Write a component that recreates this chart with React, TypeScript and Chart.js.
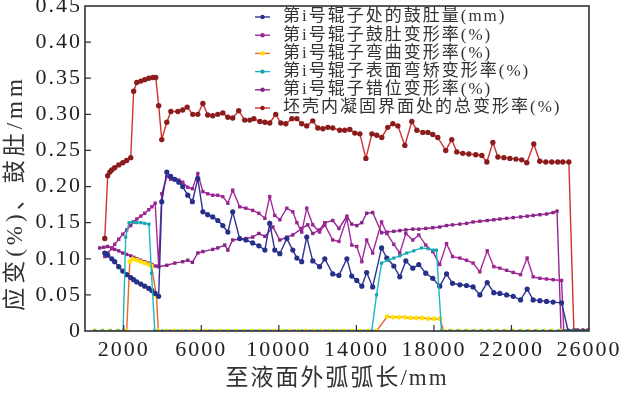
import { useEffect, useRef } from 'react';
import { Chart, registerables } from 'chart.js';

Chart.register(...registerables);

// ---------- data ----------
const xTicks = [2000, 6000, 10000, 14000, 18000, 22000, 26000];

const seriesLabels = [
  '第i号辊子处的鼓肚量(mm)',
  '第i号辊子鼓肚变形率(%)',
  '第i号辊子弯曲变形率(%)',
  '第i号辊子表面弯矫变形率(%)',
  '第i号辊子错位变形率(%)',
  '坯壳内凝固界面处的总变形率(%)',
];

// bulge amount (mm)
const bulgeX = [1020, 1170, 1380, 1530, 1740, 1950, 2150, 2360, 2510, 2670, 2880, 3080, 3290, 3450, 3620, 3800,
  3960, 4220, 4420, 4630, 4840, 5040, 5300, 5540, 5820, 6080,
  6330, 6590, 6850, 7110, 7370, 7620, 7980, 8300, 8650, 8970,
  9280, 9530, 9790, 10050, 10410, 10720, 10930, 11180, 11440, 11750,
  12100, 12370, 12780, 13100, 13510, 13760, 14020, 14280, 14530, 14840,
  15300, 15570, 15930, 16240, 16550, 16910, 17220, 17580, 17940, 18300,
  18650, 18960, 19340, 19680, 20020, 20370, 20750, 21090, 21400, 21750,
  22090, 22470, 22810, 23120, 23465, 23810, 24150, 24585, 24925, 25300, 25700];
const bulgeY = [0.108, 0.105, 0.1, 0.096, 0.089, 0.083, 0.078, 0.074, 0.071, 0.068, 0.065, 0.062, 0.059, 0.056, 0.052, 0.048,
  0.179, 0.22, 0.214, 0.21, 0.206, 0.2, 0.188, 0.179, 0.211, 0.165,
  0.161, 0.158, 0.153, 0.146, 0.137, 0.165, 0.128, 0.126, 0.122, 0.118,
  0.112, 0.149, 0.112, 0.107, 0.128, 0.112, 0.101, 0.096, 0.13, 0.097,
  0.089, 0.1, 0.079, 0.077, 0.1, 0.076, 0.07, 0.062, 0.081, 0.061,
  0.115, 0.101, 0.09, 0.075, 0.097, 0.087, 0.092, 0.08, 0.073, 0.062,
  0.079, 0.066, 0.064, 0.063, 0.061, 0.05, 0.067, 0.053, 0.052, 0.05,
  0.048, 0.043, 0.058, 0.043, 0.042, 0.041, 0.04, 0.039, 0, 0, 0];

// bulge strain (%)
const bulgeStrainX = [1020, 1170, 1380, 1530, 1740, 1950, 2150, 2360, 2510, 2670, 2880, 3080, 3290, 3450, 3620, 3800,
  3960, 4220, 4420, 4630, 4840, 5040, 5300, 5540, 5820, 6080,
  6330, 6590, 6850, 7110, 7370, 7620, 7980, 8300, 8650, 8970,
  9280, 9530, 9790, 10050, 10410, 10720, 10930, 11180, 11440, 11750,
  12100, 12370, 12780, 13100, 13510, 13760, 14020, 14280, 14530, 14840,
  15300, 15570, 15930, 16240, 16550, 16910, 17220, 17580, 17940, 18300,
  18650, 18960, 19340, 19680, 20020, 20370, 20750, 21090, 21400, 21750,
  22090, 22470, 22810, 23120, 23465, 23810, 24150, 24585, 24700, 25100, 25500];
const bulgeStrainY = [0.103, 0.108, 0.114, 0.12, 0.127, 0.134, 0.14, 0.146, 0.151, 0.155, 0.159, 0.163, 0.168, 0.172, 0.177, 0.09,
  0.19, 0.214, 0.21, 0.21, 0.209, 0.206, 0.199, 0.197, 0.218, 0.193,
  0.19, 0.188, 0.188, 0.186, 0.177, 0.195, 0.172, 0.17, 0.167, 0.163,
  0.156, 0.186, 0.16, 0.154, 0.17, 0.165, 0.15, 0.137, 0.17, 0.147,
  0.137, 0.147, 0.126, 0.124, 0.156, 0.119, 0.117, 0.096, 0.126, 0.108,
  0.151, 0.135, 0.12, 0.108, 0.135, 0.126, 0.133, 0.119, 0.11, 0.092,
  0.121, 0.103, 0.101, 0.098, 0.094, 0.082, 0.111, 0.089, 0.087, 0.084,
  0.081, 0.078, 0.101, 0.075, 0.073, 0.072, 0.071, 0.07, 0, 0, 0];

// bending strain (%)
const bendX = [500, 900, 1300, 1700, 2150, 2310, 2460, 2670, 2880, 3080,
  3300, 3430, 3690, 3780, 4200, 4600, 5000, 5400, 5800, 6200,
  6600, 7000, 7400, 7800, 8200, 8600, 9000, 9400, 9800, 10200,
  10600, 11000, 11400, 11800, 12200, 12600, 13000, 13400, 13800, 14200,
  14600, 15040, 15590, 15900, 16200, 16500, 16800, 17100, 17400, 17700,
  18000, 18300, 18510, 18900, 19300, 19700, 20100, 20500, 20900, 21300,
  21700, 22100, 22500, 22900, 23300, 23700, 24100, 24500, 24900, 25300, 25700];
const bendY = [0, 0, 0, 0, 0, 0.096, 0.1, 0.098, 0.096, 0.094,
  0.092, 0.09, 0.048, 0, 0, 0, 0, 0, 0, 0,
  0, 0, 0, 0, 0, 0, 0, 0, 0, 0,
  0, 0, 0, 0, 0, 0, 0, 0, 0, 0,
  0, 0, 0.02, 0.019, 0.019, 0.019, 0.018, 0.018, 0.018, 0.017,
  0.017, 0.017, 0, 0, 0, 0, 0, 0, 0, 0,
  0, 0, 0, 0, 0, 0, 0, 0, 0, 0, 0];

// surface straightening strain (%)
const surfX = [500, 900, 1300, 1700, 1965, 2100, 2270, 2460, 2670, 2880,
  3080, 3300, 3430, 3600, 4000, 4400, 4800, 5200, 5600, 6000,
  6400, 6800, 7200, 7600, 8000, 8400, 8800, 9200, 9600, 10000,
  10400, 10800, 11200, 11600, 12000, 12400, 12800, 13200, 13600, 14000,
  14400, 14790, 15040, 15300, 15620, 15930, 16240, 16600, 16960, 17360,
  17690, 17960, 18130, 18390, 18800, 19200, 19600, 20000, 20400, 20800,
  21200, 21600, 22000, 22400, 22800, 23200, 23600, 24000, 24400, 24800,
  25200, 25600, 25950];
const surfY = [0, 0, 0, 0, 0, 0.13, 0.15, 0.151, 0.15, 0.15,
  0.149, 0.148, 0.08, 0, 0, 0, 0, 0, 0, 0,
  0, 0, 0, 0, 0, 0, 0, 0, 0, 0,
  0, 0, 0, 0, 0, 0, 0, 0, 0, 0,
  0, 0, 0.05, 0.094, 0.098, 0.101, 0.104, 0.108, 0.111, 0.115,
  0.114, 0.112, 0.112, 0, 0, 0, 0, 0, 0, 0,
  0, 0, 0, 0, 0, 0, 0, 0, 0, 0,
  0, 0, 0];

// misalignment strain (%)
const misX = [760, 970, 1170, 1380, 1530, 1740, 1950, 2150, 2360, 2510,
  2670, 2880, 3080, 3290, 3450, 3620, 3800, 4220, 4630, 5040,
  5300, 5540, 5820, 6080, 6590, 6850, 7210, 7370, 7620, 7980,
  8300, 8650, 8970, 9280, 9690, 10050, 10410, 10720, 11180, 11490,
  11750, 12100, 12370, 12780, 13100, 13510, 13760, 14020, 14280, 14530,
  14840, 15300, 15570, 15930, 16240, 16550, 16910, 17220, 17580, 17940,
  18300, 18650, 18960, 19340, 19680, 20020, 20370, 20750, 21090, 21400,
  21750, 22090, 22470, 22810, 23120, 23465, 23810, 24150, 24350, 24560,
  24900, 25300];
const misY = [0.115, 0.116, 0.117, 0.115, 0.113, 0.111, 0.108, 0.106, 0.104, 0.102,
  0.1, 0.098, 0.096, 0.094, 0.092, 0.09, 0.089, 0.091, 0.094, 0.096,
  0.098, 0.095, 0.108, 0.11, 0.113, 0.115, 0.119, 0.112, 0.126, 0.127,
  0.128, 0.13, 0.135, 0.131, 0.144, 0.126, 0.13, 0.133, 0.142, 0.147,
  0.135, 0.14, 0.15, 0.153, 0.142, 0.159, 0.148, 0.146, 0.15, 0.163,
  0.164, 0.136, 0.137, 0.138, 0.139, 0.14, 0.141, 0.141, 0.142, 0.143,
  0.144, 0.146, 0.147, 0.148, 0.149, 0.151, 0.152, 0.153, 0.154, 0.155,
  0.156, 0.157, 0.158, 0.159, 0.16, 0.161, 0.162, 0.164, 0.166, 0,
  0, 0];

// total strain at solidification front (%)
const totalX = [1020, 1170, 1280, 1380, 1530, 1740, 1950, 2150, 2360, 2510,
  2670, 2880, 3080, 3290, 3500, 3650, 3800, 3960, 4220, 4430,
  4790, 5040, 5270, 5560, 5820, 6080, 6330, 6590, 6850, 7110,
  7370, 7620, 7930, 8240, 8500, 8710, 9020, 9280, 9530, 9840,
  10100, 10360, 10670, 10930, 11180, 11440, 11750, 12010, 12270, 12530,
  12780, 13140, 13400, 13660, 13920, 14180, 14490, 14800, 15050, 15310,
  15620, 15880, 16140, 16500, 16860, 17120, 17430, 17690, 17940, 18200,
  18610, 18920, 19180, 19490, 19800, 20160, 20470, 20730, 21040, 21300,
  21610, 21920, 22230, 22530, 22790, 23150, 23460, 23770, 24080, 24390,
  24650, 24960, 25220, 25420, 25680, 25940];
const totalY = [0.128, 0.215, 0.22, 0.223, 0.226, 0.23, 0.233, 0.236, 0.24, 0.332,
  0.344, 0.346, 0.348, 0.35, 0.351, 0.351, 0.312, 0.265, 0.289, 0.304,
  0.304, 0.306, 0.31, 0.3, 0.3, 0.315, 0.299, 0.298, 0.3, 0.302,
  0.296, 0.295, 0.305, 0.292, 0.292, 0.294, 0.29, 0.289, 0.288, 0.3,
  0.288, 0.287, 0.294, 0.294, 0.287, 0.284, 0.291, 0.281, 0.28, 0.282,
  0.281, 0.278, 0.278, 0.279, 0.274, 0.273, 0.239, 0.273, 0.271, 0.268,
  0.282, 0.287, 0.284, 0.257, 0.29, 0.278, 0.275, 0.275, 0.272, 0.268,
  0.25, 0.265, 0.248, 0.246, 0.245, 0.244, 0.243, 0.234, 0.261, 0.241,
  0.24, 0.239, 0.238, 0.237, 0.233, 0.259, 0.235, 0.234, 0.234, 0.234,
  0.234, 0.234, 0, 0, 0, 0];

const xTitle = '至液面外弧弧长/mm';
const yTitle = '应变(%)、鼓肚/mm';

// ---------- styles ----------
const lineColors = ['#2e3192', '#a3289c', '#f26522', '#1db4c4', '#92278f', '#d0312d'];
const markerColors = ['#26308a', '#9a2595', '#ffe000', '#12a3ad', '#8a2388', '#8b1c1c'];
const markerStyles = ['circle', 'rect', 'circle', 'rect', 'rect', 'circle'];
const markerRadius = [2.6, 2.4, 2.4, 2.2, 2.4, 2.7];
const drawOrder = [1, 2, 3, 0, 4, 5];

const serif = '"Liberation Serif", "Noto Sans CJK SC", serif';

function pts(xs: number[], ys: number[]) {
  return xs.map((x, i) => ({ x, y: ys[i] }));
}

const decor = {
  id: 'decor',
  beforeUpdate(chart: any) {
    chart.ctx.letterSpacing = '2px';
  },
  beforeDraw(chart: any) {
    chart.ctx.letterSpacing = '2px';
  },
  afterDraw(chart: any) {
    const { ctx, chartArea: a, scales } = chart;
    ctx.save();
    // frame
    ctx.strokeStyle = '#333';
    ctx.lineWidth = 1.6;
    ctx.strokeRect(a.left, a.top, a.right - a.left, a.bottom - a.top);
    // inward ticks
    ctx.lineWidth = 1.2;
    ctx.beginPath();
    scales.x.ticks.forEach((t: any) => {
      const px = scales.x.getPixelForValue(t.value);
      if (px > a.left + 1 && px < a.right - 1) {
        ctx.moveTo(px, a.bottom);
        ctx.lineTo(px, a.bottom - 6);
      }
    });
    scales.y.ticks.forEach((t: any) => {
      const py = scales.y.getPixelForValue(t.value);
      if (py > a.top + 1 && py < a.bottom - 1) {
        ctx.moveTo(a.left, py);
        ctx.lineTo(a.left + 6, py);
      }
    });
    ctx.stroke();
    // legend
    ctx.font = '17px ' + serif;
    ctx.textAlign = 'left';
    ctx.textBaseline = 'middle';
    ctx.letterSpacing = '2px';
    seriesLabels.forEach((lab, i) => {
      const y = 17 + i * 18.2;
      ctx.strokeStyle = lineColors[i];
      ctx.lineWidth = 1.4;
      ctx.beginPath();
      ctx.moveTo(255, y);
      ctx.lineTo(270, y);
      ctx.stroke();
      ctx.fillStyle = markerColors[i];
      ctx.beginPath();
      ctx.arc(262.5, y, 2.2, 0, Math.PI * 2);
      ctx.fill();
      ctx.fillStyle = '#333';
      ctx.fillText(lab, 283, y);
    });
    // y title
    ctx.translate(16, 193);
    ctx.rotate(-Math.PI / 2);
    ctx.textAlign = 'center';
    ctx.textBaseline = 'middle';
    ctx.font = '23px ' + serif;
    ctx.letterSpacing = '4px';
    ctx.fillStyle = '#333';
    ctx.fillText(yTitle, 0, 0);
    ctx.restore();
  },
};

export default function App() {
  const ref = useRef<HTMLCanvasElement | null>(null);

  useEffect(() => {
    document.body.style.margin = '0';
    const canvas = ref.current;
    if (!canvas) return;
    const sets = [
      pts(bulgeX, bulgeY),
      pts(bulgeStrainX, bulgeStrainY),
      pts(bendX, bendY),
      pts(surfX, surfY),
      pts(misX, misY),
      pts(totalX, totalY),
    ];
    const chart = new Chart(canvas, {
      type: 'line',
      data: {
        datasets: sets.map((d, i) => ({
          label: seriesLabels[i],
          data: d,
          order: drawOrder[i],
          borderColor: lineColors[i],
          backgroundColor: markerColors[i],
          pointBackgroundColor: markerColors[i],
          pointBorderColor: markerColors[i],
          pointBorderWidth: 0,
          pointRadius: markerRadius[i],
          pointStyle: markerStyles[i] as any,
          borderWidth: 1.4,
          tension: 0,
          fill: false,
        })),
      },
      options: {
        animation: false,
        responsive: false,
        maintainAspectRatio: false,
        layout: { padding: { left: 0, right: 32, top: 6, bottom: 0 } },
        plugins: { legend: { display: false }, tooltip: { enabled: false } },
        scales: {
          x: {
            type: 'linear',
            min: 0,
            max: 26000,
            afterBuildTicks: (s: any) => {
              s.ticks = xTicks.map((v) => ({ value: v }));
            },
            afterFit: (s: any) => {
              s.height = 62;
              s.paddingLeft = 0;
              s.paddingRight = 0;
            },
            grid: { display: false, drawTicks: false },
            border: { display: false },
            ticks: {
              autoSkip: false,
              maxRotation: 0,
              padding: 6,
              color: '#222',
              font: { family: serif, size: 22 },
              callback: (v: any) => String(v),
            },
            title: {
              display: true,
              text: xTitle,
              color: '#333',
              font: { family: serif, size: 23 },
              padding: 0,
            },
          },
          y: {
            min: 0,
            max: 0.45,
            afterFit: (s: any) => {
              s.width = 85;
              s.paddingTop = 0;
              s.paddingBottom = 0;
            },
            grid: { display: false, drawTicks: false },
            border: { display: false },
            ticks: {
              stepSize: 0.05,
              padding: 3,
              color: '#222',
              font: { family: serif, size: 22 },
              callback: (v: any) => (Math.abs(v) < 1e-9 ? '0' : Number(v).toFixed(2)),
            },
          },
        },
      },
      plugins: [decor],
    });
    return () => chart.destroy();
  }, []);

  return (
    <div style={{ width: 621, height: 393, background: '#fff' }}>
      <canvas ref={ref} width={621} height={393} style={{ display: 'block' }} />
    </div>
  );
}
